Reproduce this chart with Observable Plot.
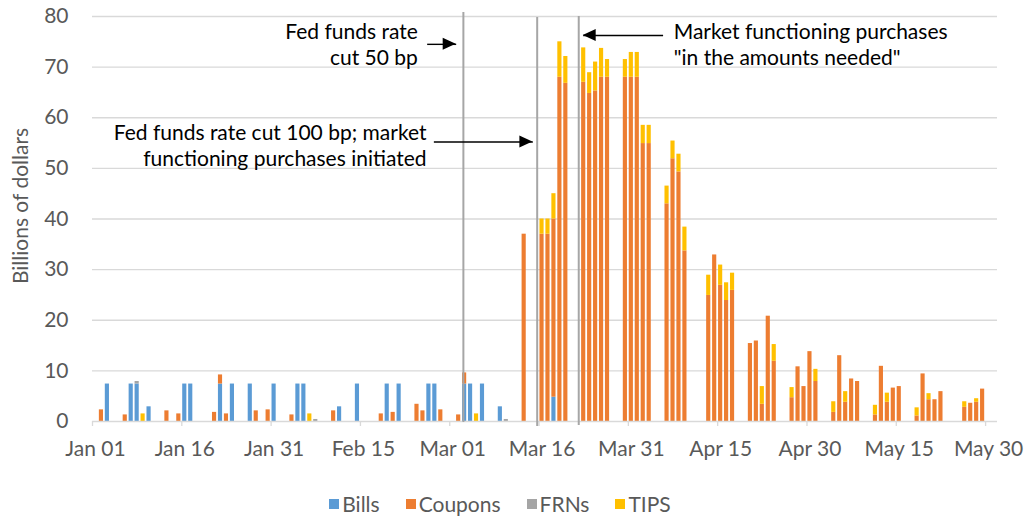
<!DOCTYPE html>
<html><head><meta charset="utf-8">
<script src="https://cdn.jsdelivr.net/npm/d3@7"></script>
<script src="https://cdn.jsdelivr.net/npm/@observablehq/plot@0.6"></script>
<style>
body{margin:0;background:#fff;font-family:Lato,sans-serif;}
#wrap{position:relative;width:1031px;height:519px;overflow:hidden;}
#legend{position:absolute;top:492px;left:0;width:1000px;display:flex;justify-content:center;gap:26px;font-size:21px;color:#595959;line-height:24px;}
.item{display:flex;align-items:center;gap:3px}
.sw{width:10px;height:10px;display:inline-block}
</style></head><body><div id="wrap"><div id="chart"></div><div id="legend"></div></div>
<script>
// ---- data (billions of dollars) ----
const types = ["Bills", "Coupons", "FRNs", "TIPS"];
const colors = ["#5B9BD5", "#ED7D31", "#A5A5A5", "#FFC000"];
const dates = [
  "2020-01-02","2020-01-03","2020-01-06","2020-01-07","2020-01-08","2020-01-09","2020-01-10",
  "2020-01-13","2020-01-15","2020-01-16","2020-01-17","2020-01-21","2020-01-22","2020-01-23","2020-01-24",
  "2020-01-27","2020-01-28","2020-01-30","2020-01-31",
  "2020-02-03","2020-02-04","2020-02-05","2020-02-06","2020-02-07",
  "2020-02-10","2020-02-11","2020-02-14","2020-02-18","2020-02-19","2020-02-20","2020-02-21",
  "2020-02-24","2020-02-25","2020-02-26","2020-02-27","2020-02-28",
  "2020-03-02","2020-03-03","2020-03-04","2020-03-05","2020-03-06",
  "2020-03-09","2020-03-10","2020-03-13","2020-03-16","2020-03-17","2020-03-18","2020-03-19","2020-03-20",
  "2020-03-23","2020-03-24","2020-03-25","2020-03-26","2020-03-27",
  "2020-03-30","2020-03-31","2020-04-01","2020-04-02","2020-04-03",
  "2020-04-06","2020-04-07","2020-04-08","2020-04-09",
  "2020-04-13","2020-04-14","2020-04-15","2020-04-16","2020-04-17",
  "2020-04-20","2020-04-21","2020-04-22","2020-04-23","2020-04-24",
  "2020-04-27","2020-04-28","2020-04-29","2020-04-30","2020-05-01",
  "2020-05-04","2020-05-05","2020-05-06","2020-05-07","2020-05-08",
  "2020-05-11","2020-05-12","2020-05-13","2020-05-14","2020-05-15",
  "2020-05-18","2020-05-19","2020-05-20","2020-05-21","2020-05-22",
  "2020-05-26","2020-05-27","2020-05-28","2020-05-29"
];
const bills = [
  0,7.4,0,7.4,7.4,0,2.9,
  0,0,7.4,7.4,0,7.4,0,7.4,
  7.4,0,0,7.4,
  0,7.4,7.4,0,0,
  0,2.9,7.4,0,7.4,0,7.4,
  0,0,7.4,7.4,0,
  0,7.4,7.4,0,7.4,
  2.9,0,0,0,0,4.8,0,0,
  0,0,0,0,0,
  0,0,0,0,0,
  0,0,0,0,
  0,0,0,0,0,
  0,0,0,0,0,
  0,0,0,0,0,
  0,0,0,0,0,
  0,0,0,0,0,
  0,0,0,0,0,
  0,0,0,0
];
const coupons = [
  2.3,0,1.3,0,0,0,0,
  2.1,1.5,0,0,1.8,1.8,1.5,0,
  0,2.1,2.3,0,
  1.3,0,0,0,0,
  2.1,0,0,1.5,0,1.8,0,
  3.4,2.1,0,0,2.3,
  1.3,2.2,0,0,0,
  0,0,37.0,37.0,37.0,35.2,68.0,66.8,
  67.0,64.8,65.3,68.0,68.0,
  68.0,68.0,68.0,54.9,54.9,
  43.0,51.9,49.3,33.7,
  24.9,32.9,26.9,23.9,25.9,
  15.4,15.9,3.4,20.8,11.9,
  4.7,10.8,6.9,13.8,7.9,
  1.8,13.0,3.8,8.4,7.9,
  1.3,10.9,3.8,6.6,6.9,
  1.1,9.4,4.3,4.3,5.9,
  2.8,3.6,3.8,6.4
];
const frns = [
  0,0,0,0,0.5,0,0,
  0,0,0,0,0,0,0,0,
  0,0,0,0,
  0,0,0,0,0.4,
  0,0,0,0,0,0,0,
  0,0,0,0,0,
  0,0,0,0,0,
  0,0.4,0,0,0,0,0,0,
  0,0,0,0,0,
  0,0,0,0,0,
  0,0,0,0,
  0,0,0,0,0,
  0,0,0,0,0,
  0,0,0,0,0,
  0,0,0,0,0,
  0,0,0,0,0,
  0,0,0,0,0,
  0,0,0,0
];
const tips = [
  0,0,0,0,0,1.5,0,
  0,0,0,0,0,0,0,0,
  0,0,0,0,
  0,0,0,1.5,0,
  0,0,0,0,0,0,0,
  0,0,0,0,0,
  0,0,0,1.5,0,
  0,0,0,3.0,3.0,5.0,7.0,5.3,
  6.8,4.1,5.7,5.7,3.5,
  3.5,4.9,4.9,3.6,3.6,
  3.5,3.5,3.5,4.7,
  4.0,0,4.0,3.5,3.4,
  0,0,3.5,0,3.3,
  2.0,0,0,0,2.4,
  2.1,0,2.1,0,0,
  1.9,0,1.8,0,0,
  1.6,0,1.2,0,0,
  1.1,0,0.7,0
];
const xTicks = ["2020-01-01","2020-01-16","2020-01-31","2020-02-15","2020-03-01","2020-03-16",
                "2020-03-31","2020-04-15","2020-04-30","2020-05-15","2020-05-30"];
const yTicks = [0,10,20,30,40,50,60,70,80];

// annotations
const vlineX = ["2020-03-03T07:00Z","2020-03-15T16:30Z","2020-03-22T16:00Z"];
const vlineTop = [80.8, 79.8, 80.0];
const vlineBottom = [-0.2, -1.0, -0.8];
const arrowFrom = ["2020-02-26T05:00Z","2020-02-27T08:00Z","2020-04-05T20:00Z"];
const arrowTo   = ["2020-03-02T02:00Z","2020-03-14T23:00Z","2020-03-23T10:00Z"];
const arrowY = [74.5, 55.2, 76.25];
const noteText = ["Fed funds rate\ncut 50 bp",
                  "Fed funds rate cut 100 bp; market\nfunctioning purchases initiated",
                  "Market functioning purchases\n\"in the amounts needed\""];
const noteX = ["2020-02-24T15:30Z","2020-02-26T02:30Z","2020-04-07T15:00Z"];
const noteY = [74.6, 54.7, 74.6];
const noteAnchor = ["end","end","start"];

// ---- build ----
const long = [];
const seriesVals = [bills, coupons, frns, tips];
types.forEach((t, k) => dates.forEach((d, i) => {
  if (seriesVals[k][i] > 0) long.push({date: new Date(d), type: t, value: seriesVals[k][i]});
}));
const tickDates = xTicks.map(d => new Date(d));

const arrowHeads = (index, scales) => {
  const g = d3.create("svg:g");
  arrowFrom.forEach((f, i) => {
    const xa = scales.x(new Date(f)), xb = scales.x(new Date(arrowTo[i])), y = scales.y(arrowY[i]);
    const dir = Math.sign(xb - xa), L = 13, W = 6;
    g.append("path").attr("d", `M${xb},${y}L${xb - dir*L},${y - W}L${xb - dir*L},${y + W}Z`).attr("fill", "#000");
  });
  return g.node();
};

const chart = Plot.plot({
  width: 1031, height: 480,
  marginLeft: 92, marginRight: 34, marginTop: 16, marginBottom: 59,
  style: {fontFamily: "Lato, sans-serif", fontSize: "21px", color: "#595959", background: "white"},
  x: {type: "utc", domain: [new Date("2020-01-01"), new Date("2020-06-01")]},
  y: {domain: [0, 80]},
  color: {domain: types, range: colors},
  marks: [
    Plot.gridY(yTicks.slice(1), {stroke: "#d9d9d9", strokeOpacity: 1, strokeWidth: 1.4}),
    Plot.rectY(long, {x: "date", interval: "day", y: "value", fill: "type", order: types, insetLeft: 0.9, insetRight: 0.9}),
    Plot.ruleY([0], {stroke: "#d9d9d9", strokeWidth: 1.5}),
    Plot.axisX(tickDates, {tickSize: 5, text: null, stroke: "#d9d9d9", strokeWidth: 1.3}),
    Plot.axisX(tickDates, {tickSize: 0, tickPadding: 20, dx: 3, tickFormat: d3.utcFormat("%b %d"), label: null}),
    Plot.axisY(yTicks, {tickSize: 0, tickPadding: 24, label: null}),
    Plot.text(["Billions of dollars"], {frameAnchor: "left", textAnchor: "middle", dx: -71, dy: -13, rotate: -90, fill: "#595959", fontSize: 21}),
    Plot.ruleX(vlineX.map((d, i) => i), {x: i => new Date(vlineX[i]), y1: i => vlineBottom[i], y2: i => vlineTop[i], stroke: "#a6a6a6", strokeWidth: 2}),
    Plot.link(arrowFrom.map((d, i) => i), {x1: i => new Date(arrowFrom[i]), x2: i => new Date(arrowTo[i]), y1: i => arrowY[i], y2: i => arrowY[i], stroke: "#000", strokeWidth: 1.4}),
    arrowHeads,
    ...noteText.map((t, i) => Plot.text([t], {x: () => new Date(noteX[i]), y: () => noteY[i], text: d => d, textAnchor: noteAnchor[i], lineAnchor: "middle", lineHeight: 1.25, fill: "#000", fontSize: 21}))
  ]
});
document.getElementById("chart").appendChild(chart);

const legend = document.getElementById("legend");
types.forEach((t, i) => {
  const it = document.createElement("div"); it.className = "item";
  const sw = document.createElement("span"); sw.className = "sw"; sw.style.background = colors[i];
  const tx = document.createElement("span"); tx.textContent = t;
  it.appendChild(sw); it.appendChild(tx); legend.appendChild(it);
});
</script></body></html>
